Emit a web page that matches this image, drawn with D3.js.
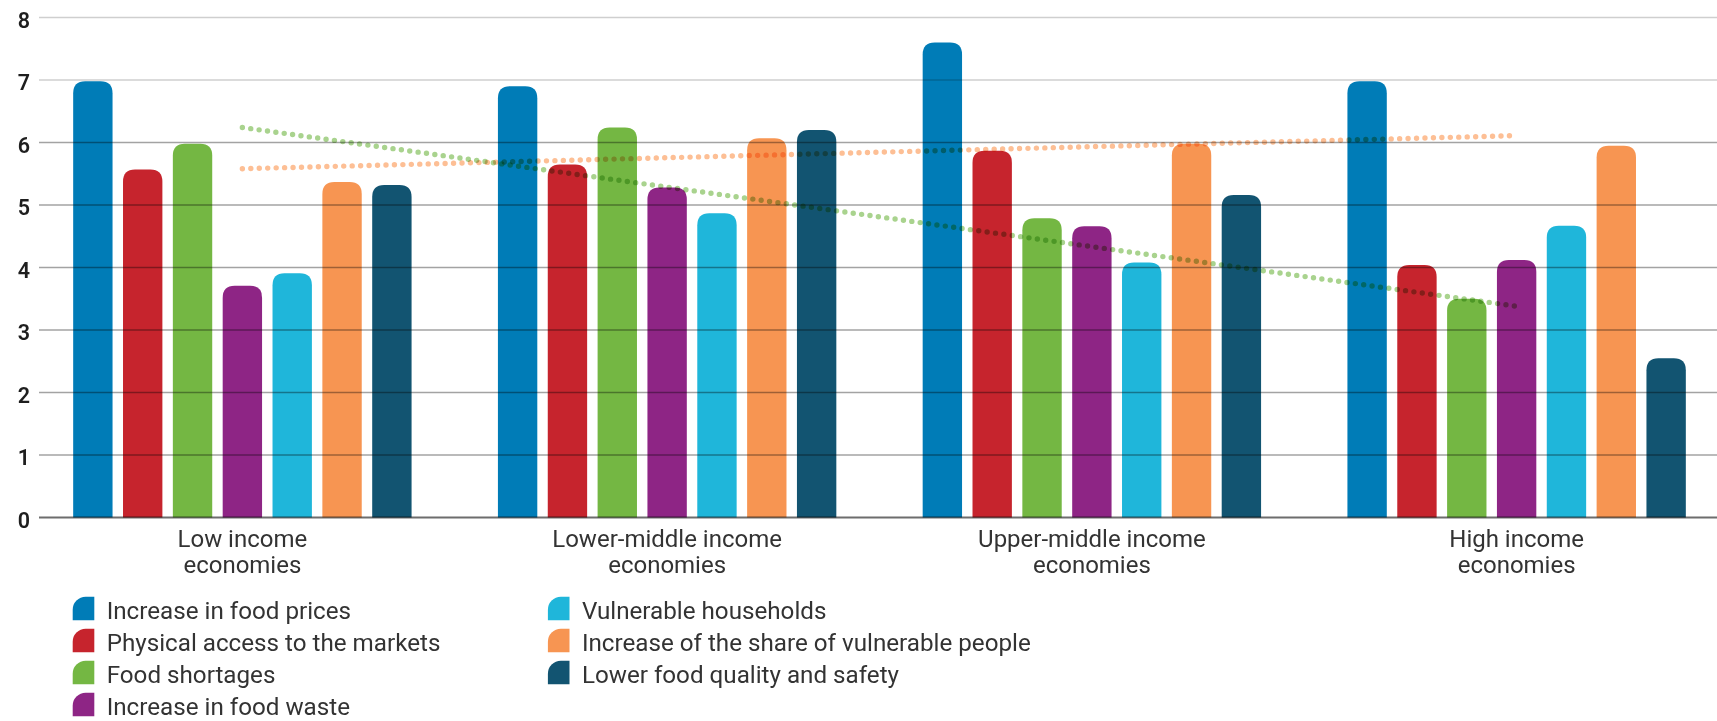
<!DOCTYPE html>
<html>
<head>
<meta charset="utf-8">
<script src="https://cdn.jsdelivr.net/npm/d3@7"></script>
<style>
  html, body { margin: 0; padding: 0; background: #ffffff; }
  svg { display: block; }
  text { font-family: Roboto, "Noto Sans", sans-serif; }
</style>
</head>
<body>
<svg id="chart" width="1717" height="721"></svg>
<script>
// ---- data ----
const categories = ["Low income economies", "Lower-middle income economies", "Upper-middle income economies", "High income economies"];
const categoryLines = [["Low income", "economies"], ["Lower-middle income", "economies"], ["Upper-middle income", "economies"], ["High income", "economies"]];
const seriesNames = [
  "Increase in food prices",
  "Physical access to the markets",
  "Food shortages",
  "Increase in food waste",
  "Vulnerable households",
  "Increase of the share of vulnerable people",
  "Lower food quality and safety"
];
const seriesColors = ["#007cb7", "#c6242d", "#74b743", "#8e2585", "#1fb6da", "#f79552", "#125471"];
const foodPrices           = [6.98, 6.90, 7.60, 6.98];
const marketAccess         = [5.57, 5.65, 5.87, 4.04];
const foodShortages        = [5.98, 6.24, 4.79, 3.50];
const foodWaste            = [3.71, 5.28, 4.66, 4.12];
const vulnerableHouseholds = [3.91, 4.87, 4.08, 4.67];
const vulnerableShare      = [5.37, 6.07, 5.98, 5.95];
const foodQuality          = [5.32, 6.20, 5.16, 2.55];
const seriesValues = [foodPrices, marketAccess, foodShortages, foodWaste, vulnerableHouseholds, vulnerableShare, foodQuality];
// dotted trend lines (value at first and at last category)
const trendGreen  = [6.24, 3.38];
const trendOrange = [5.58, 6.11];
const yTicks = [0, 1, 2, 3, 4, 5, 6, 7, 8];

// ---- layout ----
const svg = d3.select("#chart");
const plotLeft = 39, plotRight = 1717;
const y = d3.scaleLinear().domain([0, 8]).range([517.5, 17.5]);
const x0 = d3.scaleBand().domain(categories).range([30, 1729]).paddingInner(0).paddingOuter(0);
const groupW = 338.4;
const x1 = d3.scaleBand().domain(seriesNames)
  .range([(x0.bandwidth() - groupW) / 2, (x0.bandwidth() + groupW) / 2])
  .paddingInner(0.21).paddingOuter(0);

function topRounded(x, yTop, w, h, r) {
  r = Math.min(r, h / 2, w / 2);
  const yb = yTop + h;
  return `M${x},${yb}V${yTop + r}Q${x},${yTop} ${x + r},${yTop}H${x + w - r}Q${x + w},${yTop} ${x + w},${yTop + r}V${yb}Z`;
}

// bars
const rows = [];
categories.forEach((c, ci) => {
  seriesNames.forEach((s, si) => rows.push({ c, s, si, v: seriesValues[si][ci] }));
});
svg.append("g").selectAll("path").data(rows).join("path")
  .attr("d", d => {
    const xx = x0(d.c) + x1(d.s);
    return topRounded(xx, y(d.v), x1.bandwidth(), y(0) - y(d.v), 12);
  })
  .attr("fill", d => seriesColors[d.si]);

// gridlines drawn over bars (multiply)
const grid = svg.append("g").style("mix-blend-mode", "multiply");
grid.selectAll("line").data(yTicks.filter(t => t > 0)).join("line")
  .attr("x1", plotLeft).attr("x2", plotRight)
  .attr("y1", d => y(d)).attr("y2", d => y(d))
  .attr("stroke", d => d >= 7 ? "#cfcfcf" : "#a3a3a3")
  .attr("stroke-width", 1.3)
  .style("mix-blend-mode", "multiply");
svg.append("line")
  .attr("x1", plotLeft).attr("x2", plotRight)
  .attr("y1", y(0)).attr("y2", y(0))
  .attr("stroke", "#6d6d6d").attr("stroke-width", 2)
  .style("mix-blend-mode", "multiply");

// y axis labels
const yAxis = d3.axisLeft(y).tickValues(yTicks).tickSize(0).tickPadding(0).tickFormat(d3.format("d"));
const ya = svg.append("g").attr("transform", "translate(30,0)").call(yAxis);
ya.select(".domain").remove();
ya.selectAll("text")
  .attr("font-size", 21.5).attr("font-weight", 600)
  .attr("fill", "#1e1e1e").attr("dy", "0.46em")
  .style("font-family", "Roboto, sans-serif");

// trend lines (dotted)
const firstC = categories[0], lastC = categories[categories.length - 1];
function trend(vals, color) {
  svg.append("line")
    .attr("x1", x0(firstC) + x0.bandwidth() / 2)
    .attr("x2", x0(lastC) + x0.bandwidth() / 2)
    .attr("y1", y(vals[0])).attr("y2", y(vals[1]))
    .attr("stroke", color).attr("stroke-width", 5.4)
    .attr("stroke-linecap", "round").attr("stroke-dasharray", "0 8.45")
    .style("mix-blend-mode", "multiply");
}
trend(trendOrange, "#fdbf95");
trend(trendGreen, "#a9d38e");

// category labels
const cl = svg.append("g");
categories.forEach((c, i) => {
  const t = cl.append("text")
    .attr("x", x0(c) + x0.bandwidth() / 2)
    .attr("y", 547)
    .attr("text-anchor", "middle")
    .attr("font-size", 24)
    .attr("fill", "#333333");
  categoryLines[i].forEach((ln, li) => {
    t.append("tspan").attr("x", x0(c) + x0.bandwidth() / 2).attr("dy", li === 0 ? 0 : 25.5).text(ln);
  });
});

// legend
const legendCols = [[0, 1, 2, 3], [4, 5, 6]];
const colX = [72.7, 547.9];
const rowTop = [596.8, 628.8, 660.8, 692.8];
function swatch(x, yTop, w, h, r) {
  return `M${x},${yTop + h}V${yTop + r}A${r},${r} 0 0 1 ${x + r},${yTop}H${x + w}V${yTop + h}Z`;
}
const lg = svg.append("g");
legendCols.forEach((col, ci) => {
  col.forEach((si, ri) => {
    lg.append("path")
      .attr("d", swatch(colX[ci], rowTop[ri], 21.6, 23.4, 13))
      .attr("fill", seriesColors[si]);
    lg.append("text")
      .attr("x", colX[ci] + 34)
      .attr("y", rowTop[ri] + 22.6)
      .attr("font-size", 24.2)
      .attr("fill", "#333333")
      .text(seriesNames[si]);
  });
});
</script>
</body>
</html>
